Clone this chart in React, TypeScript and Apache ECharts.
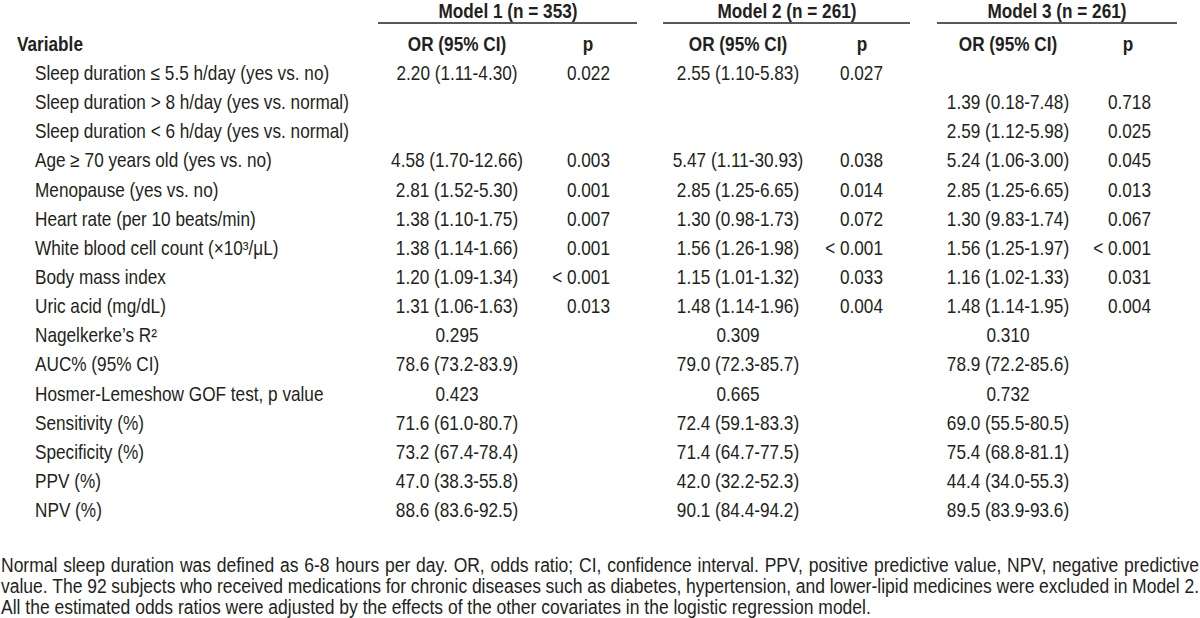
import React, { useEffect, useRef } from "react";
import * as echarts from "echarts";

const modelTitles = ["Model 1 (n = 353)", "Model 2 (n = 261)", "Model 3 (n = 261)"];
const columnHeaders = ["OR (95% CI)", "p"];
const variableHeader = "Variable";

const variables = [
  "Sleep duration ≤ 5.5 h/day (yes vs. no)",
  "Sleep duration > 8 h/day (yes vs. normal)",
  "Sleep duration < 6 h/day (yes vs. normal)",
  "Age ≥ 70 years old (yes vs. no)",
  "Menopause (yes vs. no)",
  "Heart rate (per 10 beats/min)",
  "White blood cell count (×10³/μL)",
  "Body mass index",
  "Uric acid (mg/dL)",
  "Nagelkerke’s R²",
  "AUC% (95% CI)",
  "Hosmer-Lemeshow GOF test, p value",
  "Sensitivity (%)",
  "Specificity (%)",
  "PPV (%)",
  "NPV (%)",
];

const model1OR = ["2.20 (1.11-4.30)", "", "", "4.58 (1.70-12.66)", "2.81 (1.52-5.30)", "1.38 (1.10-1.75)", "1.38 (1.14-1.66)", "1.20 (1.09-1.34)", "1.31 (1.06-1.63)", "0.295", "78.6 (73.2-83.9)", "0.423", "71.6 (61.0-80.7)", "73.2 (67.4-78.4)", "47.0 (38.3-55.8)", "88.6 (83.6-92.5)"];
const model1P = ["0.022", "", "", "0.003", "0.001", "0.007", "0.001", "< 0.001", "0.013"];
const model2OR = ["2.55 (1.10-5.83)", "", "", "5.47 (1.11-30.93)", "2.85 (1.25-6.65)", "1.30 (0.98-1.73)", "1.56 (1.26-1.98)", "1.15 (1.01-1.32)", "1.48 (1.14-1.96)", "0.309", "79.0 (72.3-85.7)", "0.665", "72.4 (59.1-83.3)", "71.4 (64.7-77.5)", "42.0 (32.2-52.3)", "90.1 (84.4-94.2)"];
const model2P = ["0.027", "", "", "0.038", "0.014", "0.072", "< 0.001", "0.033", "0.004"];
const model3OR = ["", "1.39 (0.18-7.48)", "2.59 (1.12-5.98)", "5.24 (1.06-3.00)", "2.85 (1.25-6.65)", "1.30 (9.83-1.74)", "1.56 (1.25-1.97)", "1.16 (1.02-1.33)", "1.48 (1.14-1.95)", "0.310", "78.9 (72.2-85.6)", "0.732", "69.0 (55.5-80.5)", "75.4 (68.8-81.1)", "44.4 (34.0-55.3)", "89.5 (83.9-93.6)"];
const model3P = ["", "0.718", "0.025", "0.045", "0.013", "0.067", "< 0.001", "0.031", "0.004"];

const footnoteLines = [
  "Normal sleep duration was defined as 6-8 hours per day. OR, odds ratio; CI, confidence interval. PPV, positive predictive value, NPV, negative predictive",
  "value. The 92 subjects who received medications for chronic diseases such as diabetes, hypertension, and lower-lipid medicines were excluded in Model 2.",
  "All the estimated odds ratios were adjusted by the effects of the other covariates in the logistic regression model.",
];

const FONT_FAMILY = '"Liberation Sans"';
const TEXT_COLOR = "#231f20";
const FS = 20;
const SX = 0.86;
const FOOT_SX = 0.875;

export default function App() {
  const ref = useRef<HTMLDivElement>(null);

  useEffect(() => {
    document.body.style.margin = "0";
    if (!ref.current) return;
    const chart = echarts.init(ref.current, null, { renderer: "svg" });

    const els: any[] = [];
    const txt = (text: string, x: number, y: number, align: string, bold = false, sx = SX) => {
      if (!text) return;
      els.push({
        type: "text",
        x,
        y,
        scaleX: sx,
        silent: true,
        style: {
          text,
          x: 0,
          y: 0,
          fill: TEXT_COLOR,
          align,
          verticalAlign: "middle",
          font: `${bold ? "bold " : ""}${FS}px ${FONT_FAMILY}`,
        },
      });
    };

    const titleCenters = [508, 787, 1057];
    const lineSpans = [[378, 637], [663, 910], [937, 1177]];
    const orCenters = [457, 738, 1008];
    const pHeaderCenters = [588, 862, 1128];
    const pRights = [610, 883, 1151];
    const titleY = 11;
    const ruleY = 23;
    const headerY = 44;
    const rowY0 = 73;
    const rowStep = 29.15;
    const labelX = 35;

    modelTitles.forEach((t, i) => txt(t, titleCenters[i], titleY, "center", true));
    lineSpans.forEach(([a, b]) => {
      els.push({
        type: "line",
        silent: true,
        shape: { x1: a, y1: ruleY, x2: b, y2: ruleY },
        style: { stroke: TEXT_COLOR, lineWidth: 1.5 },
      });
    });
    txt(variableHeader, 17, headerY, "left", true);
    orCenters.forEach((c) => txt(columnHeaders[0], c, headerY, "center", true));
    pHeaderCenters.forEach((c) => txt(columnHeaders[1], c, headerY, "center", true));

    const ors = [model1OR, model2OR, model3OR];
    const ps = [model1P, model2P, model3P];
    variables.forEach((v, r) => {
      const y = rowY0 + r * rowStep;
      txt(v, labelX, y, "left");
      ors.forEach((col, m) => txt(col[r] || "", orCenters[m], y, "center"));
      ps.forEach((col, m) => txt(col[r] || "", pRights[m], y, "right"));
    });

    // footnote, first two lines justified to full width
    const footY = [565, 586.5, 607.5];
    const footLeft = 1;
    const footRight = 1199;
    const canvas = document.createElement("canvas");
    const ctx = canvas.getContext("2d");
    const font = `${FS}px ${FONT_FAMILY}`;
    footnoteLines.forEach((line, i) => {
      const justify = i < footnoteLines.length - 1 && ctx;
      if (!justify) {
        txt(line, footLeft, footY[i], "left", false, FOOT_SX);
        return;
      }
      ctx!.font = font;
      const words = line.split(" ");
      const widths = words.map((w) => ctx!.measureText(w).width * FOOT_SX);
      const total = widths.reduce((a, b) => a + b, 0);
      const gap = (footRight - footLeft - total) / (words.length - 1);
      let x = footLeft;
      words.forEach((w, k) => {
        txt(w, x, footY[i], "left", false, FOOT_SX);
        x += widths[k] + gap;
      });
    });

    chart.setOption({
      animation: false,
      backgroundColor: "#ffffff",
      graphic: { elements: els },
    });

    return () => chart.dispose();
  }, []);

  return <div ref={ref} style={{ width: 1200, height: 618 }} />;
}
